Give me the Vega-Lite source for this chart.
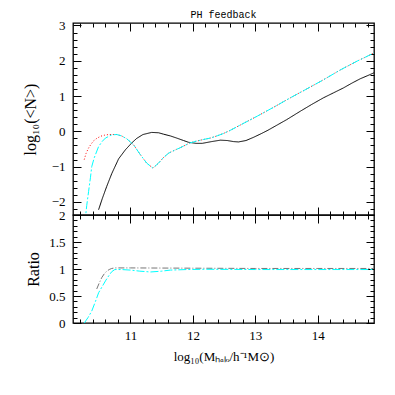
{
  "$schema": "https://vega.github.io/schema/vega-lite/v6.json",
  "autosize": {"type": "pad"},
  "padding": {"left": 21, "top": 9, "right": 5, "bottom": 5},
  "spacing": 0,
  "bounds": "flush",
  "resolve": {"scale": {"color": "independent", "strokeDash": "independent"}},
  "config": {
    "axis": {"grid": false, "domain": false, "ticks": true, "tickColor": "#000000", "tickOpacity": 1, "tickWidth": 1, "zindex": 1, "labelFont": "Liberation Serif", "labelFontSize": 13, "labelColor": "black", "titleFont": "Liberation Serif", "titleFontSize": 16, "titleFontWeight": "normal", "titleColor": "black"},
    "view": {"stroke": "black", "strokeWidth": 1.3},
    "line": {"strokeWidth": 1}
  },
  "datasets": {
    "top": [
      {"series": "black", "x": 10.49, "y": -2.22}, {"series": "black", "x": 10.55, "y": -1.9}, {"series": "black", "x": 10.62, "y": -1.56}, {"series": "black", "x": 10.7, "y": -1.2}, {"series": "black", "x": 10.81, "y": -0.78}, {"series": "black", "x": 10.92, "y": -0.52}, {"series": "black", "x": 11.02, "y": -0.33}, {"series": "black", "x": 11.1, "y": -0.2}, {"series": "black", "x": 11.2, "y": -0.09}, {"series": "black", "x": 11.34, "y": -0.03}, {"series": "black", "x": 11.45, "y": -0.04}, {"series": "black", "x": 11.53, "y": -0.08}, {"series": "black", "x": 11.64, "y": -0.13}, {"series": "black", "x": 11.74, "y": -0.19}, {"series": "black", "x": 11.85, "y": -0.26}, {"series": "black", "x": 11.93, "y": -0.31}, {"series": "black", "x": 12.05, "y": -0.34}, {"series": "black", "x": 12.15, "y": -0.34}, {"series": "black", "x": 12.3, "y": -0.29}, {"series": "black", "x": 12.44, "y": -0.25}, {"series": "black", "x": 12.55, "y": -0.26}, {"series": "black", "x": 12.65, "y": -0.29}, {"series": "black", "x": 12.73, "y": -0.3}, {"series": "black", "x": 12.85, "y": -0.26}, {"series": "black", "x": 12.97, "y": -0.17}, {"series": "black", "x": 13.1, "y": -0.06}, {"series": "black", "x": 13.2, "y": 0.03}, {"series": "black", "x": 13.35, "y": 0.18}, {"series": "black", "x": 13.5, "y": 0.33}, {"series": "black", "x": 13.72, "y": 0.57}, {"series": "black", "x": 13.9, "y": 0.76}, {"series": "black", "x": 14.09, "y": 0.95}, {"series": "black", "x": 14.25, "y": 1.09}, {"series": "black", "x": 14.41, "y": 1.23}, {"series": "black", "x": 14.55, "y": 1.37}, {"series": "black", "x": 14.68, "y": 1.49}, {"series": "black", "x": 14.8, "y": 1.58}, {"series": "black", "x": 14.9, "y": 1.66},
      {"series": "red", "x": 10.26, "y": -0.8}, {"series": "red", "x": 10.29, "y": -0.62}, {"series": "red", "x": 10.33, "y": -0.47}, {"series": "red", "x": 10.37, "y": -0.36}, {"series": "red", "x": 10.41, "y": -0.27}, {"series": "red", "x": 10.46, "y": -0.2}, {"series": "red", "x": 10.52, "y": -0.14}, {"series": "red", "x": 10.58, "y": -0.11}, {"series": "red", "x": 10.65, "y": -0.09}, {"series": "red", "x": 10.72, "y": -0.09}, {"series": "red", "x": 10.78, "y": -0.09}, {"series": "red", "x": 10.86, "y": -0.13}, {"series": "red", "x": 10.94, "y": -0.21}, {"series": "red", "x": 11.05, "y": -0.38}, {"series": "red", "x": 11.15, "y": -0.64}, {"series": "red", "x": 11.26, "y": -0.9}, {"series": "red", "x": 11.36, "y": -1.04}, {"series": "red", "x": 11.45, "y": -0.9}, {"series": "red", "x": 11.53, "y": -0.74}, {"series": "red", "x": 11.61, "y": -0.62}, {"series": "red", "x": 11.7, "y": -0.54}, {"series": "red", "x": 11.79, "y": -0.47}, {"series": "red", "x": 11.95, "y": -0.33}, {"series": "red", "x": 12.05, "y": -0.28}, {"series": "red", "x": 12.17, "y": -0.23}, {"series": "red", "x": 12.28, "y": -0.19}, {"series": "red", "x": 12.4, "y": -0.12}, {"series": "red", "x": 12.49, "y": -0.06}, {"series": "red", "x": 12.6, "y": 0.03}, {"series": "red", "x": 12.76, "y": 0.18}, {"series": "red", "x": 13.03, "y": 0.43}, {"series": "red", "x": 13.3, "y": 0.69}, {"series": "red", "x": 13.56, "y": 0.95}, {"series": "red", "x": 13.8, "y": 1.18}, {"series": "red", "x": 14.09, "y": 1.46}, {"series": "red", "x": 14.36, "y": 1.74}, {"series": "red", "x": 14.63, "y": 1.99}, {"series": "red", "x": 14.9, "y": 2.22},
      {"series": "cyan", "x": 10.27, "y": -2.6}, {"series": "cyan", "x": 10.3, "y": -2.1}, {"series": "cyan", "x": 10.33, "y": -1.7}, {"series": "cyan", "x": 10.36, "y": -1.3}, {"series": "cyan", "x": 10.38, "y": -1.0}, {"series": "cyan", "x": 10.42, "y": -0.75}, {"series": "cyan", "x": 10.49, "y": -0.43}, {"series": "cyan", "x": 10.55, "y": -0.28}, {"series": "cyan", "x": 10.6, "y": -0.19}, {"series": "cyan", "x": 10.7, "y": -0.1}, {"series": "cyan", "x": 10.78, "y": -0.09}, {"series": "cyan", "x": 10.86, "y": -0.13}, {"series": "cyan", "x": 10.94, "y": -0.21}, {"series": "cyan", "x": 11.05, "y": -0.38}, {"series": "cyan", "x": 11.15, "y": -0.64}, {"series": "cyan", "x": 11.26, "y": -0.9}, {"series": "cyan", "x": 11.36, "y": -1.04}, {"series": "cyan", "x": 11.45, "y": -0.9}, {"series": "cyan", "x": 11.53, "y": -0.74}, {"series": "cyan", "x": 11.61, "y": -0.62}, {"series": "cyan", "x": 11.7, "y": -0.54}, {"series": "cyan", "x": 11.79, "y": -0.47}, {"series": "cyan", "x": 11.95, "y": -0.33}, {"series": "cyan", "x": 12.05, "y": -0.28}, {"series": "cyan", "x": 12.17, "y": -0.23}, {"series": "cyan", "x": 12.28, "y": -0.19}, {"series": "cyan", "x": 12.4, "y": -0.12}, {"series": "cyan", "x": 12.49, "y": -0.06}, {"series": "cyan", "x": 12.6, "y": 0.03}, {"series": "cyan", "x": 12.76, "y": 0.18}, {"series": "cyan", "x": 13.03, "y": 0.43}, {"series": "cyan", "x": 13.3, "y": 0.69}, {"series": "cyan", "x": 13.56, "y": 0.95}, {"series": "cyan", "x": 13.8, "y": 1.18}, {"series": "cyan", "x": 14.09, "y": 1.46}, {"series": "cyan", "x": 14.36, "y": 1.74}, {"series": "cyan", "x": 14.63, "y": 1.99}, {"series": "cyan", "x": 14.9, "y": 2.22}
    ],
    "ratio": [
      {"series": "gray", "x": 10.46, "y": 0.63}, {"series": "gray", "x": 10.5, "y": 0.74}, {"series": "gray", "x": 10.54, "y": 0.84}, {"series": "gray", "x": 10.58, "y": 0.91}, {"series": "gray", "x": 10.62, "y": 0.96}, {"series": "gray", "x": 10.66, "y": 0.99}, {"series": "gray", "x": 10.7, "y": 1.01}, {"series": "gray", "x": 10.75, "y": 1.02}, {"series": "gray", "x": 11.0, "y": 1.02}, {"series": "gray", "x": 12.0, "y": 1.015}, {"series": "gray", "x": 13.0, "y": 1.01}, {"series": "gray", "x": 14.0, "y": 1.01}, {"series": "gray", "x": 14.9, "y": 1.01},
      {"series": "cyan", "x": 10.26, "y": 0.0}, {"series": "cyan", "x": 10.32, "y": 0.1}, {"series": "cyan", "x": 10.38, "y": 0.22}, {"series": "cyan", "x": 10.44, "y": 0.4}, {"series": "cyan", "x": 10.49, "y": 0.56}, {"series": "cyan", "x": 10.55, "y": 0.68}, {"series": "cyan", "x": 10.6, "y": 0.78}, {"series": "cyan", "x": 10.65, "y": 0.87}, {"series": "cyan", "x": 10.7, "y": 0.95}, {"series": "cyan", "x": 10.75, "y": 0.99}, {"series": "cyan", "x": 10.85, "y": 0.99}, {"series": "cyan", "x": 11.0, "y": 0.98}, {"series": "cyan", "x": 11.15, "y": 0.96}, {"series": "cyan", "x": 11.32, "y": 0.945}, {"series": "cyan", "x": 11.5, "y": 0.96}, {"series": "cyan", "x": 11.64, "y": 0.98}, {"series": "cyan", "x": 11.9, "y": 0.99}, {"series": "cyan", "x": 12.2, "y": 0.995}, {"series": "cyan", "x": 13.0, "y": 0.99}, {"series": "cyan", "x": 14.0, "y": 0.99}, {"series": "cyan", "x": 14.9, "y": 0.99}
    ]
  },
  "vconcat": [
    {
      "width": 301,
      "height": 192,
      "title": {"text": "PH feedback", "font": "Liberation Mono", "fontSize": 10, "fontWeight": "normal", "color": "black", "offset": -1},
      "data": {"name": "top"},
      "layer": [
        {
          "mark": {"type": "line", "clip": true},
          "encoding": {
            "x": {"field": "x", "type": "quantitative", "scale": {"domain": [10.08, 14.9], "nice": false, "zero": false}, "axis": {"orient": "bottom", "values": [11, 12, 13, 14], "offset": -8, "tickSize": 8, "labels": false, "title": null}},
            "y": {"field": "y", "type": "quantitative", "scale": {"domain": [-2.37, 3.07], "nice": false, "zero": false}, "axis": {"orient": "left", "values": [-2, -1, 0, 1, 2, 3], "offset": -8, "tickSize": 8, "labelPadding": 8, "title": "log₁₀(<N>)", "titlePadding": 13}},
            "color": {"field": "series", "type": "nominal", "scale": {"domain": ["black", "red", "cyan"], "range": ["#000000", "#ff0000", "#00ffff"]}, "legend": null},
            "strokeDash": {"field": "series", "type": "nominal", "scale": {"domain": ["black", "red", "cyan"], "range": [[1, 0], [1, 2], [8, 2, 2, 2]]}, "legend": null}
          }
        },
        {
          "mark": {"type": "point", "opacity": 0},
          "encoding": {
            "x": {"field": "x", "type": "quantitative", "scale": {"domain": [10.08, 14.9], "nice": false, "zero": false}, "axis": {"orient": "bottom", "values": [10.2, 10.4, 10.6, 10.8, 11.2, 11.4, 11.6, 11.8, 12.2, 12.4, 12.6, 12.8, 13.2, 13.4, 13.6, 13.8, 14.2, 14.4, 14.6, 14.8], "offset": -4, "tickSize": 4, "labels": false, "title": null}},
            "y": {"field": "y", "type": "quantitative", "scale": {"domain": [-2.37, 3.07], "nice": false, "zero": false}, "axis": {"orient": "left", "values": [-2.2, -1.8, -1.6, -1.4, -1.2, -0.8, -0.6, -0.4, -0.2, 0.2, 0.4, 0.6, 0.8, 1.2, 1.4, 1.6, 1.8, 2.2, 2.4, 2.6, 2.8], "offset": -4, "tickSize": 4, "labels": false, "title": null}}
          }
        },
        {
          "mark": {"type": "point", "opacity": 0},
          "encoding": {
            "x": {"field": "x", "type": "quantitative", "scale": {"domain": [10.08, 14.9], "nice": false, "zero": false}, "axis": {"orient": "top", "values": [11, 12, 13, 14], "offset": -8, "tickSize": 8, "labels": false, "title": null}},
            "y": {"field": "y", "type": "quantitative", "scale": {"domain": [-2.37, 3.07], "nice": false, "zero": false}, "axis": {"orient": "right", "values": [-2, -1, 0, 1, 2, 3], "offset": -8, "tickSize": 8, "labels": false, "title": null}}
          }
        },
        {
          "mark": {"type": "point", "opacity": 0},
          "encoding": {
            "x": {"field": "x", "type": "quantitative", "scale": {"domain": [10.08, 14.9], "nice": false, "zero": false}, "axis": {"orient": "top", "values": [10.2, 10.4, 10.6, 10.8, 11.2, 11.4, 11.6, 11.8, 12.2, 12.4, 12.6, 12.8, 13.2, 13.4, 13.6, 13.8, 14.2, 14.4, 14.6, 14.8], "offset": -4, "tickSize": 4, "labels": false, "title": null}},
            "y": {"field": "y", "type": "quantitative", "scale": {"domain": [-2.37, 3.07], "nice": false, "zero": false}, "axis": {"orient": "right", "values": [-2.2, -1.8, -1.6, -1.4, -1.2, -0.8, -0.6, -0.4, -0.2, 0.2, 0.4, 0.6, 0.8, 1.2, 1.4, 1.6, 1.8, 2.2, 2.4, 2.6, 2.8], "offset": -4, "tickSize": 4, "labels": false, "title": null}}
          }
        }
      ],
      "resolve": {"axis": {"x": "independent", "y": "independent"}}
    },
    {
      "width": 301,
      "height": 108,
      "data": {"name": "ratio"},
      "layer": [
        {
          "mark": {"type": "line", "clip": true},
          "encoding": {
            "x": {"field": "x", "type": "quantitative", "scale": {"domain": [10.08, 14.9], "nice": false, "zero": false}, "axis": {"orient": "bottom", "values": [11, 12, 13, 14], "offset": -8, "tickSize": 8, "labelPadding": 6, "title": "log₁₀(Mₕₐₗₒ/h⁻¹M⊙)", "titleFontSize": 13, "titlePadding": 8}},
            "y": {"field": "y", "type": "quantitative", "scale": {"domain": [0, 2], "nice": false, "zero": false}, "axis": {"orient": "left", "values": [0, 0.5, 1, 1.5, 2], "format": "~g", "offset": -8, "tickSize": 8, "labelPadding": 8, "title": "Ratio", "titlePadding": 7}},
            "color": {"field": "series", "type": "nominal", "scale": {"domain": ["gray", "cyan"], "range": ["#777777", "#00ffff"]}, "legend": null},
            "strokeDash": {"field": "series", "type": "nominal", "scale": {"domain": ["gray", "cyan"], "range": [[6, 2, 1, 2], [8, 2, 2, 2]]}, "legend": null}
          }
        },
        {
          "mark": {"type": "point", "opacity": 0},
          "encoding": {
            "x": {"field": "x", "type": "quantitative", "scale": {"domain": [10.08, 14.9], "nice": false, "zero": false}, "axis": {"orient": "bottom", "values": [10.2, 10.4, 10.6, 10.8, 11.2, 11.4, 11.6, 11.8, 12.2, 12.4, 12.6, 12.8, 13.2, 13.4, 13.6, 13.8, 14.2, 14.4, 14.6, 14.8], "offset": -4, "tickSize": 4, "labels": false, "title": null}},
            "y": {"field": "y", "type": "quantitative", "scale": {"domain": [0, 2], "nice": false, "zero": false}, "axis": {"orient": "left", "values": [0.1, 0.2, 0.3, 0.4, 0.6, 0.7, 0.8, 0.9, 1.1, 1.2, 1.3, 1.4, 1.6, 1.7, 1.8, 1.9], "offset": -4, "tickSize": 4, "labels": false, "title": null}}
          }
        },
        {
          "mark": {"type": "point", "opacity": 0},
          "encoding": {
            "x": {"field": "x", "type": "quantitative", "scale": {"domain": [10.08, 14.9], "nice": false, "zero": false}, "axis": {"orient": "top", "values": [11, 12, 13, 14], "offset": -8, "tickSize": 8, "labels": false, "title": null}},
            "y": {"field": "y", "type": "quantitative", "scale": {"domain": [0, 2], "nice": false, "zero": false}, "axis": {"orient": "right", "values": [0, 0.5, 1, 1.5, 2], "offset": -8, "tickSize": 8, "labels": false, "title": null}}
          }
        },
        {
          "mark": {"type": "point", "opacity": 0},
          "encoding": {
            "x": {"field": "x", "type": "quantitative", "scale": {"domain": [10.08, 14.9], "nice": false, "zero": false}, "axis": {"orient": "top", "values": [10.2, 10.4, 10.6, 10.8, 11.2, 11.4, 11.6, 11.8, 12.2, 12.4, 12.6, 12.8, 13.2, 13.4, 13.6, 13.8, 14.2, 14.4, 14.6, 14.8], "offset": -4, "tickSize": 4, "labels": false, "title": null}},
            "y": {"field": "y", "type": "quantitative", "scale": {"domain": [0, 2], "nice": false, "zero": false}, "axis": {"orient": "right", "values": [0.1, 0.2, 0.3, 0.4, 0.6, 0.7, 0.8, 0.9, 1.1, 1.2, 1.3, 1.4, 1.6, 1.7, 1.8, 1.9], "offset": -4, "tickSize": 4, "labels": false, "title": null}}
          }
        }
      ],
      "resolve": {"axis": {"x": "independent", "y": "independent"}}
    }
  ]
}
